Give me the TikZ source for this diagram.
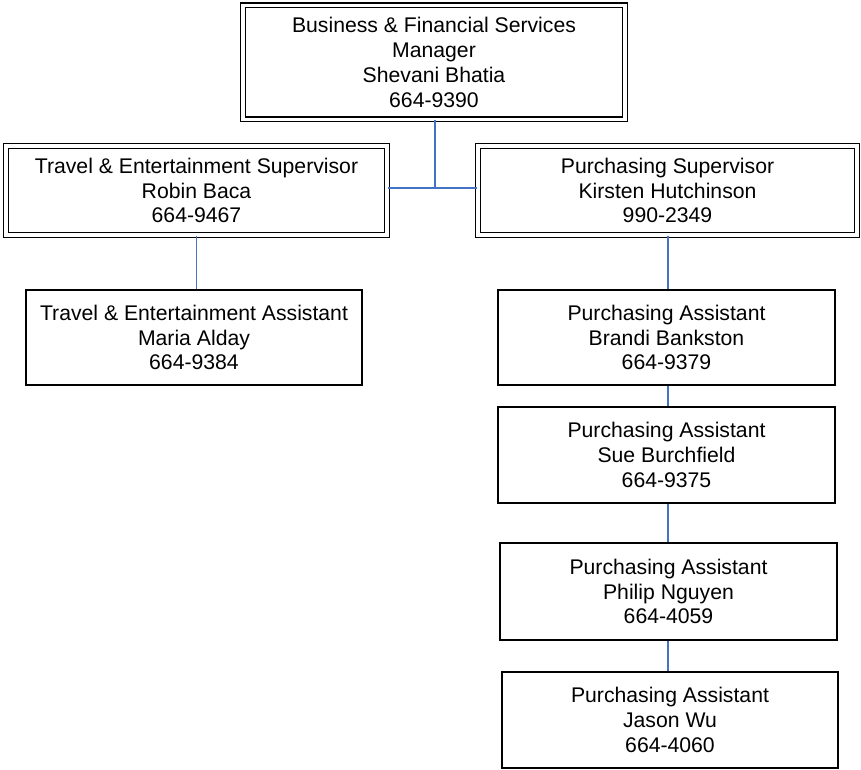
\documentclass[tikz,border=0pt]{standalone}
\usepackage{fontspec}
\setmainfont{Liberation Sans}
\definecolor{linkblue}{HTML}{4472C4}
\begin{document}
\begin{tikzpicture}[x=1pt, y=-1pt,
  box/.style = {draw, line width=1.4pt, rectangle, align=center, inner sep=0pt,
    font=\fontsize{21.2}{24.8}\selectfont},
  dbox/.style = {box, double, double distance=3.2pt},
  link/.style = {draw=linkblue, line width=1.6pt}]
\useasboundingbox (0,0) rectangle (861,770);
\node (mgr) at (434, 62.5) [dbox, minimum width=382, minimum height=114] {Business \& Financial Services\\Manager\\Shevani Bhatia\\664-9390};
\node (tes) at (196.5, 190.5) [dbox, minimum width=381, minimum height=89] {Travel \& Entertainment Supervisor\\Robin Baca\\664-9467};
\node (ps) at (667.5, 190.5) [dbox, minimum width=379, minimum height=89] {Purchasing Supervisor\\Kirsten Hutchinson\\990-2349};
\node (tea) at (194, 337.5) [box, minimum width=336, minimum height=95] {Travel \& Entertainment Assistant\\Maria Alday\\664-9384};
\node (pa1) at (666.5, 337.5) [box, minimum width=337, minimum height=95] {Purchasing Assistant\\Brandi Bankston\\664-9379};
\node (pa2) at (666.5, 455) [box, minimum width=337, minimum height=96] {Purchasing Assistant\\Sue Burchfield\\664-9375};
\node (pa3) at (668.5, 591.5) [box, minimum width=337, minimum height=97] {Purchasing Assistant\\Philip Nguyen\\664-4059};
\node (pa4) at (670, 720) [box, minimum width=336, minimum height=96] {Purchasing Assistant\\Jason Wu\\664-4060};
\coordinate (hub) at (435, 188);
\coordinate (pline) at (668, 0);
% connectors
\draw[link] (mgr.south -| hub) -- (hub);
\draw[link] (tes.east |- hub) -- (ps.west |- hub);
\draw[link] (tes.south) -- (tea.north -| tes.south);
\draw[link] (ps.south -| pline) -- (pa1.north -| pline);
\draw[link] (pa1.south -| pline) -- (pa2.north -| pline);
\draw[link] (pa2.south -| pline) -- (pa3.north -| pline);
\draw[link] (pa3.south -| pline) -- (pa4.north -| pline);
\end{tikzpicture}
\end{document}
